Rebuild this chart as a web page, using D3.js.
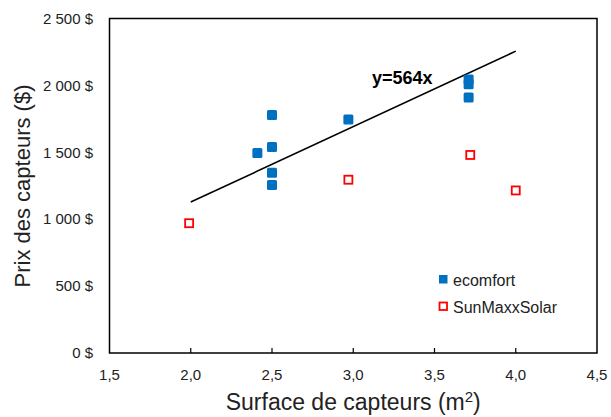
<!DOCTYPE html>
<html lang="fr">
<head>
<meta charset="UTF-8">
<script src="https://d3js.org/d3.v7.min.js"></script>
<style>
  body { margin: 0; background: #fff; }
  svg { font-family: Arial, "Liberation Sans", sans-serif; }
</style>
</head>
<body>
<svg width="611" height="417"></svg>
<script>
// ecomfort (filled blue squares)
const ecomfortX = [2.41, 2.5, 2.5, 2.5, 2.5, 2.97, 3.71, 3.71, 3.71];
const ecomfortY = [1495, 1778, 1540, 1348, 1255, 1745, 2045, 2008, 1910];
// SunMaxxSolar (hollow red squares)
const sunmaxxX = [1.99, 2.97, 3.72, 4.0];
const sunmaxxY = [970, 1295, 1480, 1215];
// trendline y = 564x
const slope = 564;
const trendRange = [2.0, 4.0];
const xTicks = [1.5, 2.0, 2.5, 3.0, 3.5, 4.0, 4.5];
const yTicks = [0, 500, 1000, 1500, 2000, 2500];

const svg = d3.select("svg");
const plotL = 109.5, plotR = 597, plotT = 18.5, plotB = 353;

const x = d3.scaleLinear().domain([1.5, 4.5]).range([plotL, plotR]);
const y = d3.scaleLinear().domain([0, 2500]).range([plotB, plotT]);

const fmtY = d => d === 0 ? "0 $" : d3.format(",")(d).replace(",", " ") + " $";
const fmtX = d => d.toFixed(1).replace(".", ",");

// frame
svg.append("rect")
  .attr("x", plotL).attr("y", plotT)
  .attr("width", plotR - plotL).attr("height", plotB - plotT)
  .attr("fill", "none").attr("stroke", "#000").attr("stroke-width", 1.5);

// x ticks (inside)
svg.selectAll(".xtick").data(xTicks.slice(1, -1)).enter().append("line")
  .attr("x1", d => x(d)).attr("x2", d => x(d))
  .attr("y1", plotB).attr("y2", plotB - 5)
  .attr("stroke", "#000").attr("stroke-width", 1.2);

svg.selectAll(".xlab").data(xTicks).enter().append("text")
  .attr("x", d => x(d)).attr("y", plotB + 27)
  .attr("text-anchor", "middle").attr("font-size", 15).attr("fill", "#222")
  .text(fmtX);

svg.selectAll(".ylab").data(yTicks).enter().append("text")
  .attr("x", 93).attr("y", d => y(d)).attr("dy", "0.35em")
  .attr("text-anchor", "end").attr("font-size", 15).attr("fill", "#222")
  .text(fmtY);

// trendline
svg.append("line")
  .attr("x1", x(trendRange[0])).attr("y1", y(slope * trendRange[0]))
  .attr("x2", x(trendRange[1])).attr("y2", y(slope * trendRange[1]))
  .attr("stroke", "#000").attr("stroke-width", 1.6);

svg.append("text")
  .attr("x", 372).attr("y", 84)
  .attr("font-size", 18).attr("font-weight", "bold")
  .text("y=" + slope + "x");

// points
const s = 10;
svg.selectAll(".eco").data(ecomfortX.map((d, i) => [d, ecomfortY[i]])).enter().append("rect")
  .attr("x", d => x(d[0]) - s / 2).attr("y", d => y(d[1]) - s / 2)
  .attr("width", s).attr("height", s).attr("rx", 1.5)
  .attr("fill", "#0070C0");

const r = 8;
svg.selectAll(".sun").data(sunmaxxX.map((d, i) => [d, sunmaxxY[i]])).enter().append("rect")
  .attr("x", d => x(d[0]) - r / 2).attr("y", d => y(d[1]) - r / 2)
  .attr("width", r).attr("height", r)
  .attr("fill", "#fff").attr("stroke", "#FF0000").attr("stroke-width", 1.8);

// legend
svg.append("rect").attr("x", 439).attr("y", 275).attr("width", 8.5).attr("height", 8.5).attr("fill", "#0070C0");
svg.append("text").attr("x", 453).attr("y", 280).attr("dy", "0.35em").attr("font-size", 16).attr("fill", "#222").text("ecomfort");
svg.append("rect").attr("x", 439.5).attr("y", 302.5).attr("width", 7.5).attr("height", 7.5)
  .attr("fill", "#fff").attr("stroke", "#FF0000").attr("stroke-width", 1.8);
svg.append("text").attr("x", 453).attr("y", 307).attr("dy", "0.35em").attr("font-size", 16).attr("fill", "#222").text("SunMaxxSolar");

// axis titles
const xt = svg.append("text")
  .attr("x", x(3.0)).attr("y", 410)
  .attr("text-anchor", "middle").attr("font-size", 23).attr("fill", "#222");
xt.append("tspan").text("Surface de capteurs  (m");
xt.append("tspan").attr("font-size", 15).attr("baseline-shift", "super").text("2");
xt.append("tspan").text(")");

svg.append("text")
  .attr("transform", "translate(30," + 186 + ") rotate(-90)")
  .attr("text-anchor", "middle").attr("font-size", 22).attr("fill", "#222")
  .text("Prix des capteurs ($)");
</script>
</body>
</html>
